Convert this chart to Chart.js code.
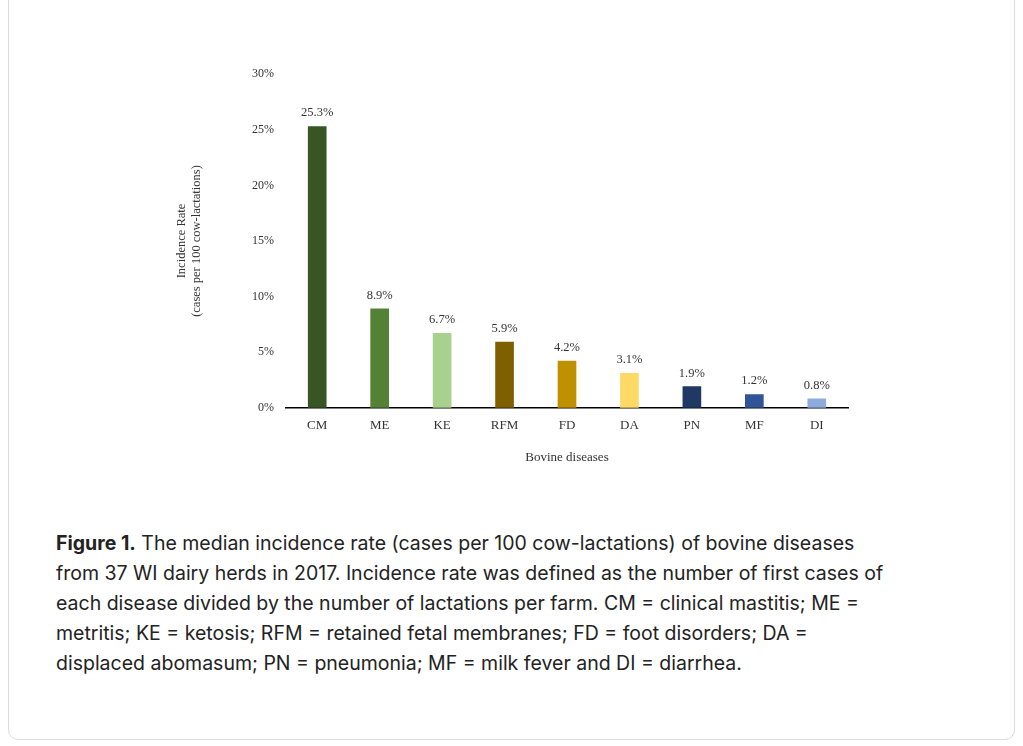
<!DOCTYPE html>
<html>
<head>
<meta charset="utf-8">
<script src="https://cdn.jsdelivr.net/npm/chart.js@4"></script>
<style>
  body { margin: 0; background: #fff; font-family: Inter, "Noto Sans", sans-serif; }
  .card { position: absolute; left: 8px; top: -10px; width: 1005px; height: 748px; border: 1px solid #ddd; border-radius: 10px; }
  .plot { position: absolute; left: 160px; top: 55px; width: 700px; height: 414px; }
  .caption { position: absolute; left: 56px; top: 528px; width: 845px; font-size: 19.5px; line-height: 30px; color: #222; }
</style>
</head>
<body>
<div class="card"></div>
<div class="plot"><canvas id="diseaseChart"></canvas></div>
<div class="caption"><b>Figure 1.</b> The median incidence rate (cases per 100 cow-lactations) of bovine diseases from 37 WI dairy herds in 2017. Incidence rate was defined as the number of first cases of each disease divided by the number of lactations per farm. CM = clinical mastitis; ME = metritis; KE = ketosis; RFM = retained fetal membranes; FD = foot disorders; DA = displaced abomasum; PN = pneumonia; MF = milk fever and DI = diarrhea.</div>
<script>
var diseases = ['CM', 'ME', 'KE', 'RFM', 'FD', 'DA', 'PN', 'MF', 'DI'];
var incidence = [25.3, 8.9, 6.7, 5.9, 4.2, 3.1, 1.9, 1.2, 0.8];
var barColors = ['#375623', '#548235', '#a9d18e', '#7f6000', '#bf9000', '#ffd966', '#203864', '#2f5597', '#8faadc'];

// labels above each bar
var valueLabels = {
    id: 'valueLabels',
    afterDatasetsDraw: function(chart) {
        var ctx = chart.ctx;
        var meta = chart.getDatasetMeta(0);
        ctx.save();
        ctx.font = '12.5px "Liberation Serif", serif';
        ctx.fillStyle = '#333';
        ctx.textAlign = 'center';
        ctx.textBaseline = 'bottom';
        meta.data.forEach(function(bar, i) {
            ctx.fillText(incidence[i].toFixed(1) + '%', bar.x, bar.y - 7);
        });
        ctx.restore();
    }
};

new Chart(document.getElementById('diseaseChart'), {
    type: 'bar',
    data: {
        labels: diseases,
        datasets: [{
            data: incidence,
            backgroundColor: barColors,
            barThickness: 18
        }]
    },
    options: {
        responsive: true,
        maintainAspectRatio: false,
        animation: false,
        layout: { padding: { top: 8, right: 12 } },
        plugins: { legend: { display: false }, tooltip: { enabled: false } },
        scales: {
            x: {
                grid: { display: false, drawTicks: false },
                border: { color: '#000', width: 1.5 },
                ticks: { color: '#333', padding: 10, font: { family: 'Liberation Serif', size: 13 } },
                title: { display: true, text: 'Bovine diseases', color: '#333', font: { family: 'Liberation Serif', size: 13 }, padding: { top: 6 } }
            },
            y: {
                min: 0, max: 30,
                grid: { display: false, drawTicks: false },
                border: { display: false },
                ticks: { stepSize: 5, color: '#333', padding: 12, font: { family: 'Liberation Serif', size: 12 },
                    callback: function(v) { return v + '%'; } },
                title: { display: true, text: ['Incidence Rate', '(cases per 100 cow-lactations)'], color: '#333',
                    font: { family: 'Liberation Serif', size: 12.5 }, padding: { top: 14, bottom: 36 } }
            }
        }
    },
    plugins: [valueLabels]
});
</script>
</body>
</html>
